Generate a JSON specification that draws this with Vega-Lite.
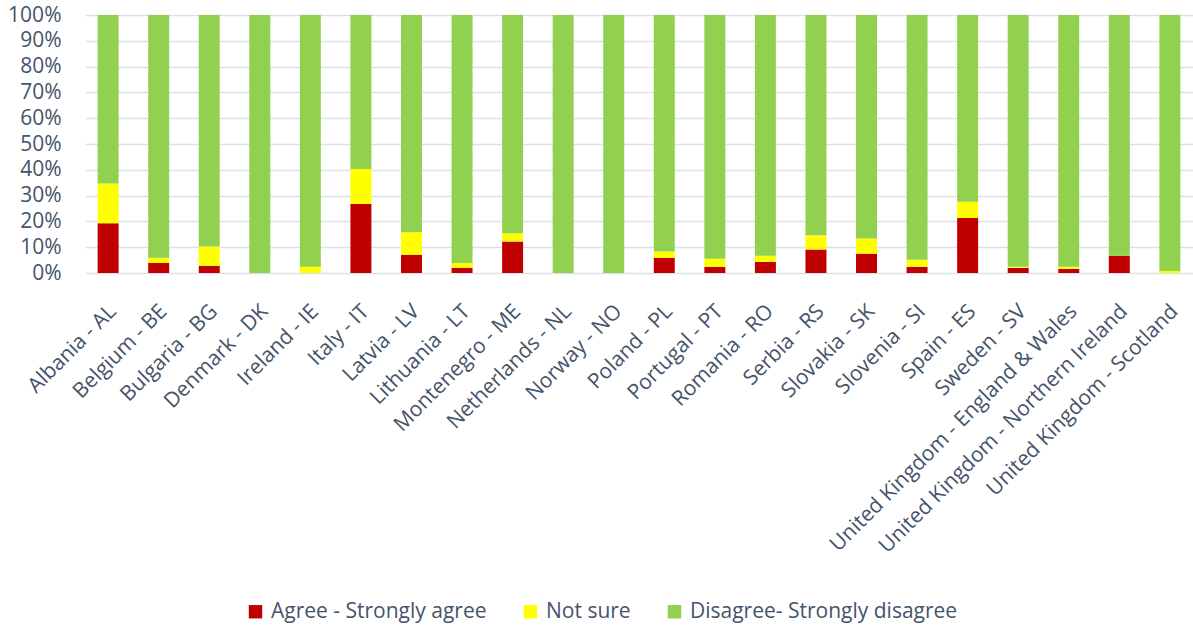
{
  "$schema": "https://vega.github.io/schema/vega-lite/v6.json",
  "width": 1108,
  "height": 258,
  "autosize": {"type": "none"},
  "padding": {"left": 85, "top": 15, "right": 0, "bottom": 355},
  "background": "white",
  "config": {
    "view": {"stroke": null},
    "font": "Open Sans",
    "axis": {"labelColor": "#44546A", "labelFont": "Open Sans"},
    "legend": {"labelColor": "#44546A", "labelFont": "Open Sans"}
  },
  "data": {
    "values": [
      {"country": "Albania - AL", "response": "Agree - Strongly agree", "value": 19.3, "o": 1},
      {"country": "Albania - AL", "response": "Not sure", "value": 15.4, "o": 2},
      {"country": "Albania - AL", "response": "Disagree- Strongly disagree", "value": 65.3, "o": 3},
      {"country": "Belgium - BE", "response": "Agree - Strongly agree", "value": 3.9, "o": 1},
      {"country": "Belgium - BE", "response": "Not sure", "value": 2.0, "o": 2},
      {"country": "Belgium - BE", "response": "Disagree- Strongly disagree", "value": 94.1, "o": 3},
      {"country": "Bulgaria - BG", "response": "Agree - Strongly agree", "value": 2.8, "o": 1},
      {"country": "Bulgaria - BG", "response": "Not sure", "value": 7.5, "o": 2},
      {"country": "Bulgaria - BG", "response": "Disagree- Strongly disagree", "value": 89.7, "o": 3},
      {"country": "Denmark - DK", "response": "Agree - Strongly agree", "value": 0, "o": 1},
      {"country": "Denmark - DK", "response": "Not sure", "value": 0, "o": 2},
      {"country": "Denmark - DK", "response": "Disagree- Strongly disagree", "value": 100, "o": 3},
      {"country": "Ireland - IE", "response": "Agree - Strongly agree", "value": 0, "o": 1},
      {"country": "Ireland - IE", "response": "Not sure", "value": 2.4, "o": 2},
      {"country": "Ireland - IE", "response": "Disagree- Strongly disagree", "value": 97.6, "o": 3},
      {"country": "Italy - IT", "response": "Agree - Strongly agree", "value": 26.8, "o": 1},
      {"country": "Italy - IT", "response": "Not sure", "value": 13.5, "o": 2},
      {"country": "Italy - IT", "response": "Disagree- Strongly disagree", "value": 59.7, "o": 3},
      {"country": "Latvia - LV", "response": "Agree - Strongly agree", "value": 7.1, "o": 1},
      {"country": "Latvia - LV", "response": "Not sure", "value": 8.7, "o": 2},
      {"country": "Latvia - LV", "response": "Disagree- Strongly disagree", "value": 84.2, "o": 3},
      {"country": "Lithuania - LT", "response": "Agree - Strongly agree", "value": 2.0, "o": 1},
      {"country": "Lithuania - LT", "response": "Not sure", "value": 1.9, "o": 2},
      {"country": "Lithuania - LT", "response": "Disagree- Strongly disagree", "value": 96.1, "o": 3},
      {"country": "Montenegro - ME", "response": "Agree - Strongly agree", "value": 12.2, "o": 1},
      {"country": "Montenegro - ME", "response": "Not sure", "value": 3.2, "o": 2},
      {"country": "Montenegro - ME", "response": "Disagree- Strongly disagree", "value": 84.6, "o": 3},
      {"country": "Netherlands - NL", "response": "Agree - Strongly agree", "value": 0, "o": 1},
      {"country": "Netherlands - NL", "response": "Not sure", "value": 0, "o": 2},
      {"country": "Netherlands - NL", "response": "Disagree- Strongly disagree", "value": 100, "o": 3},
      {"country": "Norway - NO", "response": "Agree - Strongly agree", "value": 0, "o": 1},
      {"country": "Norway - NO", "response": "Not sure", "value": 0, "o": 2},
      {"country": "Norway - NO", "response": "Disagree- Strongly disagree", "value": 100, "o": 3},
      {"country": "Poland - PL", "response": "Agree - Strongly agree", "value": 5.9, "o": 1},
      {"country": "Poland - PL", "response": "Not sure", "value": 2.4, "o": 2},
      {"country": "Poland - PL", "response": "Disagree- Strongly disagree", "value": 91.7, "o": 3},
      {"country": "Portugal - PT", "response": "Agree - Strongly agree", "value": 2.4, "o": 1},
      {"country": "Portugal - PT", "response": "Not sure", "value": 3.1, "o": 2},
      {"country": "Portugal - PT", "response": "Disagree- Strongly disagree", "value": 94.5, "o": 3},
      {"country": "Romania - RO", "response": "Agree - Strongly agree", "value": 4.3, "o": 1},
      {"country": "Romania - RO", "response": "Not sure", "value": 2.4, "o": 2},
      {"country": "Romania - RO", "response": "Disagree- Strongly disagree", "value": 93.3, "o": 3},
      {"country": "Serbia - RS", "response": "Agree - Strongly agree", "value": 9.1, "o": 1},
      {"country": "Serbia - RS", "response": "Not sure", "value": 5.5, "o": 2},
      {"country": "Serbia - RS", "response": "Disagree- Strongly disagree", "value": 85.4, "o": 3},
      {"country": "Slovakia - SK", "response": "Agree - Strongly agree", "value": 7.5, "o": 1},
      {"country": "Slovakia - SK", "response": "Not sure", "value": 5.9, "o": 2},
      {"country": "Slovakia - SK", "response": "Disagree- Strongly disagree", "value": 86.6, "o": 3},
      {"country": "Slovenia - SI", "response": "Agree - Strongly agree", "value": 2.4, "o": 1},
      {"country": "Slovenia - SI", "response": "Not sure", "value": 2.7, "o": 2},
      {"country": "Slovenia - SI", "response": "Disagree- Strongly disagree", "value": 94.9, "o": 3},
      {"country": "Spain - ES", "response": "Agree - Strongly agree", "value": 21.3, "o": 1},
      {"country": "Spain - ES", "response": "Not sure", "value": 6.3, "o": 2},
      {"country": "Spain - ES", "response": "Disagree- Strongly disagree", "value": 72.4, "o": 3},
      {"country": "Sweden - SV", "response": "Agree - Strongly agree", "value": 2.0, "o": 1},
      {"country": "Sweden - SV", "response": "Not sure", "value": 0.4, "o": 2},
      {"country": "Sweden - SV", "response": "Disagree- Strongly disagree", "value": 97.6, "o": 3},
      {"country": "United Kingdom - England & Wales", "response": "Agree - Strongly agree", "value": 1.6, "o": 1},
      {"country": "United Kingdom - England & Wales", "response": "Not sure", "value": 0.8, "o": 2},
      {"country": "United Kingdom - England & Wales", "response": "Disagree- Strongly disagree", "value": 97.6, "o": 3},
      {"country": "United Kingdom - Northern Ireland", "response": "Agree - Strongly agree", "value": 6.7, "o": 1},
      {"country": "United Kingdom - Northern Ireland", "response": "Not sure", "value": 0, "o": 2},
      {"country": "United Kingdom - Northern Ireland", "response": "Disagree- Strongly disagree", "value": 93.3, "o": 3},
      {"country": "United Kingdom - Scotland", "response": "Agree - Strongly agree", "value": 0, "o": 1},
      {"country": "United Kingdom - Scotland", "response": "Not sure", "value": 0.8, "o": 2},
      {"country": "United Kingdom - Scotland", "response": "Disagree- Strongly disagree", "value": 99.2, "o": 3}
    ]
  },
  "mark": {"type": "bar"},
  "encoding": {
    "x": {
      "field": "country",
      "type": "nominal",
      "sort": null,
      "scale": {"paddingInner": 0.585, "paddingOuter": 0.25},
      "axis": {
        "title": null,
        "labelAngle": -45,
        "labelAlign": "right",
        "labelBaseline": "middle",
        "labelFontSize": 21,
        "labelPadding": 35,
        "labelOffset": 5,
        "labelLimit": 600,
        "domain": false,
        "ticks": false,
        "grid": false
      }
    },
    "y": {
      "field": "value",
      "type": "quantitative",
      "stack": "normalize",
      "scale": {"domain": [0, 1], "nice": false},
      "axis": {
        "title": null,
        "values": [0, 0.1, 0.2, 0.3, 0.4, 0.5, 0.6, 0.7, 0.8, 0.9, 1],
        "format": ".0%",
        "labelFontSize": 21,
        "labelPadding": 24,
        "domain": false,
        "ticks": false,
        "grid": true,
        "gridColor": "#DDE1E6",
        "gridWidth": 1.5
      }
    },
    "order": {"field": "o", "type": "quantitative"},
    "color": {
      "field": "response",
      "type": "nominal",
      "scale": {
        "domain": ["Agree - Strongly agree", "Not sure", "Disagree- Strongly disagree"],
        "range": ["#C00000", "#FFFF00", "#92D050"]
      },
      "legend": {
        "title": null,
        "orient": "none",
        "direction": "horizontal",
        "legendX": 160,
        "legendY": 586,
        "symbolType": "square",
        "symbolSize": 180,
        "symbolStrokeWidth": 0,
        "labelFontSize": 21,
        "labelOffset": 5,
        "columnPadding": 33,
        "labelLimit": 400
      }
    }
  }
}
